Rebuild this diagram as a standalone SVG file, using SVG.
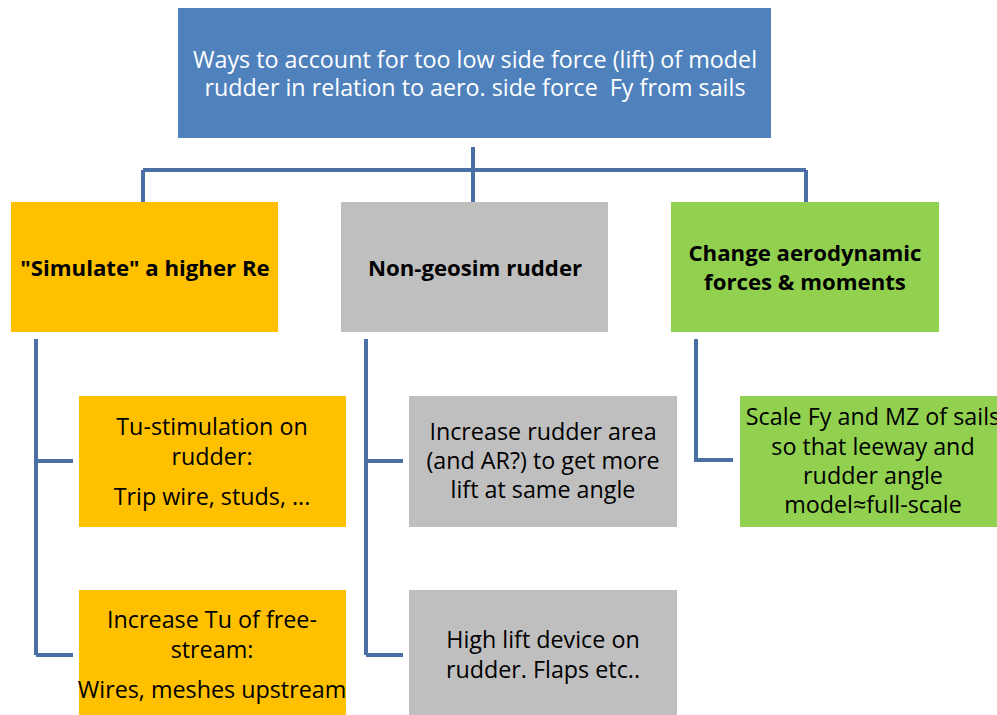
<svg xmlns="http://www.w3.org/2000/svg" width="997" height="715" viewBox="0 0 997 715">
<style>
.t{font-family:"Open Sans","Liberation Sans",sans-serif;font-size:23.3px;text-anchor:middle;fill:#000}
.w{fill:#fff}
.b{font-weight:bold;font-size:22.2px}
.c{fill:none;stroke:#4A6FA5;stroke-width:4}
</style>
<rect width="997" height="715" fill="#fff"/>
<g id="connectors">
<path class="c" d="M473 147V202M143 170H806M143 170V202M806 170V202"/>
<path class="c" d="M36 339V655M36 461H73M36 655H73"/>
<path class="c" d="M366 339V655M366 461H403M366 655H403"/>
<path class="c" d="M696 339V460H733"/>
</g>
<g id="root">
<rect x="178" y="8" width="593" height="130" fill="#4F81BD"/>
<text class="t w" x="475" y="68">Ways to account for too low side force (lift) of model</text>
<text class="t w" x="475" y="96">rudder in relation to aero. side force &#160;Fy from sails</text>
</g>
<g id="n1">
<rect x="11" y="202" width="267" height="130" fill="#FFC000"/>
<text class="t b" x="145" y="276">"Simulate" a higher Re</text>
</g>
<g id="n2">
<rect x="341" y="202" width="267" height="130" fill="#BFBFBF"/>
<text class="t b" x="475" y="276">Non-geosim rudder</text>
</g>
<g id="n3">
<rect x="671" y="202" width="268" height="130" fill="#92D050"/>
<text class="t b" x="805" y="261">Change aerodynamic</text>
<text class="t b" x="805" y="290">forces &amp; moments</text>
</g>
<g id="n1a">
<rect x="79" y="396" width="267" height="131" fill="#FFC000"/>
<text class="t" x="212" y="435">Tu-stimulation on</text>
<text class="t" x="212" y="465">rudder:</text>
<text class="t" x="212" y="505">Trip wire, studs, ...</text>
</g>
<g id="n1b">
<rect x="79" y="590" width="267" height="130" fill="#FFC000"/>
<text class="t" x="212" y="628">Increase Tu of free-</text>
<text class="t" x="212" y="658">stream:</text>
<text class="t" x="212" y="698">Wires, meshes upstream</text>
</g>
<g id="n2a">
<rect x="409" y="396" width="268" height="131" fill="#BFBFBF"/>
<text class="t" x="543" y="440">Increase rudder area</text>
<text class="t" x="543" y="469">(and AR?) to get more</text>
<text class="t" x="543" y="498">lift at same angle</text>
</g>
<g id="n2b">
<rect x="409" y="590" width="268" height="130" fill="#BFBFBF"/>
<text class="t" x="543" y="648">High lift device on</text>
<text class="t" x="543" y="678">rudder. Flaps etc..</text>
</g>
<g id="n3a">
<rect x="740" y="396" width="267" height="131" fill="#92D050"/>
<text class="t" x="873" y="425">Scale Fy and MZ of sails</text>
<text class="t" x="873" y="455">so that leeway and</text>
<text class="t" x="873" y="484">rudder angle</text>
<text class="t" x="873" y="513">model≈full-scale</text>
</g>
</svg>
